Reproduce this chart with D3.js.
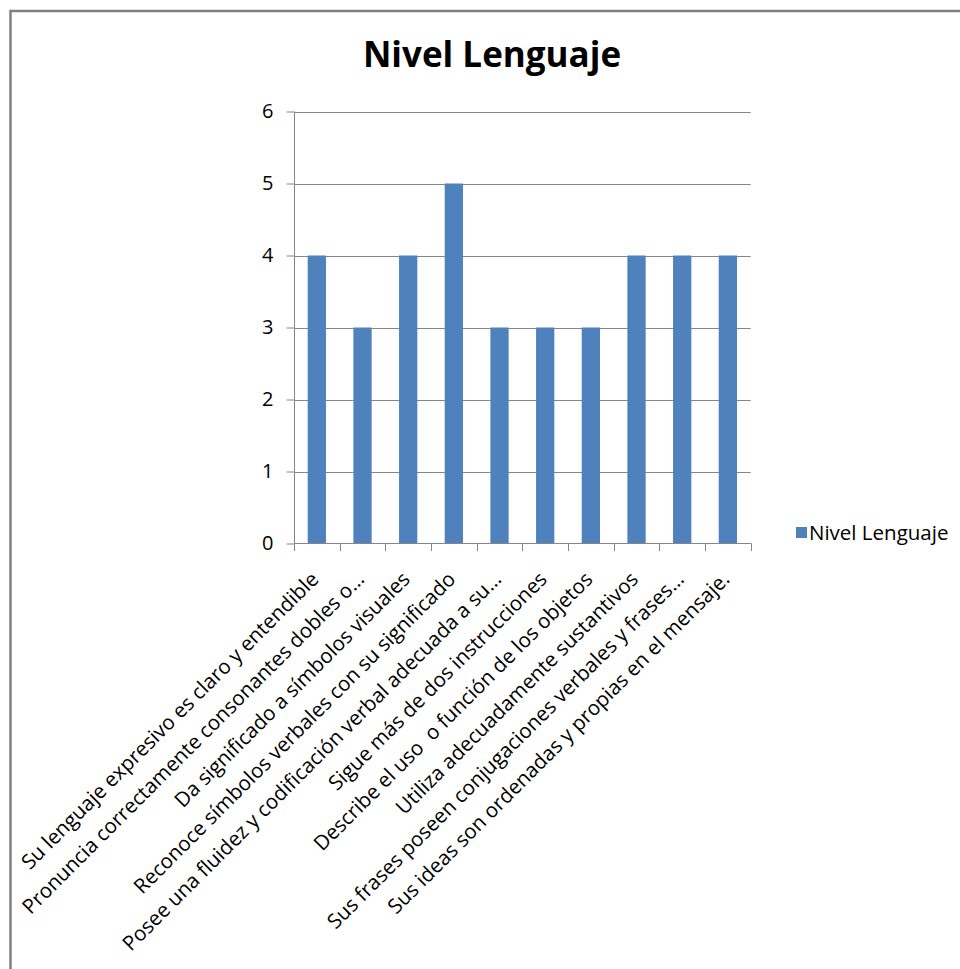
<!DOCTYPE html>
<html>
<head>
<meta charset="utf-8">
<script src="https://cdn.jsdelivr.net/npm/d3@7"></script>
<style>
  html, body { margin: 0; padding: 0; background: #fff; }
  svg { display: block; font-family: "Open Sans", sans-serif; }
</style>
</head>
<body>
<svg id="chart" width="960" height="969"></svg>
<script>
// Items assessed and their score
const categories = [
  "Su lenguaje expresivo es claro y entendible",
  "Pronuncia correctamente consonantes dobles o…",
  "Da significado a símbolos visuales",
  "Reconoce símbolos verbales con su significado",
  "Posee una fluidez y codificación verbal adecuada a su…",
  "Sigue más de dos instrucciones",
  "Describe el uso\u00a0 o función de los objetos",
  "Utiliza adecuadamente sustantivos",
  "Sus frases poseen conjugaciones verbales y frases…",
  "Sus ideas son ordenadas y propias en el mensaje."
];
const values = [4, 3, 4, 5, 3, 3, 3, 4, 4, 4];
const yTicks = [0, 1, 2, 3, 4, 5, 6];
const seriesName = "Nivel Lenguaje";
const chartTitle = "Nivel Lenguaje";

const svg = d3.select("#chart");
const barColor = "#4F81BD";
const lineColor = "#868686";

// Outer frame of the chart
svg.append("path")
  .attr("d", "M10.5,969 L10.5,11 L960,11")
  .attr("fill", "none")
  .attr("stroke", "#808080")
  .attr("stroke-width", 2.5);

// Title
svg.append("text")
  .attr("x", 492).attr("y", 67)
  .attr("text-anchor", "middle")
  .attr("font-size", 35)
  .attr("font-weight", "bold")
  .attr("fill", "#000")
  .text(chartTitle);

const plot = { left: 294, right: 750.7, top: 111.5, bottom: 543.5 };

const x = d3.scaleBand()
  .domain(categories)
  .range([plot.left, plot.right])
  .paddingInner(0.6)
  .paddingOuter(0.3);

const xBand = d3.scaleBand()
  .domain(categories)
  .range([plot.left, plot.right]);

const y = d3.scaleLinear()
  .domain([0, 6])
  .range([plot.bottom, plot.top]);

// Horizontal gridlines
svg.append("g")
  .selectAll("line")
  .data(yTicks.filter(d => d > 0))
  .join("line")
  .attr("x1", plot.left).attr("x2", plot.right)
  .attr("y1", d => Math.round(y(d)) + 0.5)
  .attr("y2", d => Math.round(y(d)) + 0.5)
  .attr("stroke", lineColor)
  .attr("stroke-width", 1);

// Bars
svg.append("g")
  .selectAll("rect")
  .data(values)
  .join("rect")
  .attr("x", (d, i) => x(categories[i]))
  .attr("width", x.bandwidth())
  .attr("y", d => y(d))
  .attr("height", d => y(0) - y(d))
  .attr("fill", barColor);

// Y axis
const yAxis = svg.append("g")
  .attr("transform", `translate(${plot.left + 0.5},0)`)
  .call(d3.axisLeft(y).tickValues(yTicks).tickFormat(d3.format("d")).tickSize(8).tickPadding(13));
yAxis.select(".domain").attr("stroke", lineColor).attr("d", `M0,${plot.top}V${plot.bottom}`);
yAxis.selectAll(".tick line").attr("stroke", lineColor);
yAxis.selectAll(".tick text")
  .attr("font-size", 20)
  .attr("font-family", "Open Sans, sans-serif")
  .attr("fill", "#000");

// X axis: tick marks at band boundaries
const boundaries = categories.map(c => xBand(c)).concat([plot.right]);
const xAxis = svg.append("g");
xAxis.append("line")
  .attr("x1", plot.left).attr("x2", plot.right + 0.5)
  .attr("y1", plot.bottom).attr("y2", plot.bottom)
  .attr("stroke", lineColor);
xAxis.selectAll("line.tk")
  .data(boundaries)
  .join("line")
  .attr("class", "tk")
  .attr("x1", d => Math.round(d) + 0.5).attr("x2", d => Math.round(d) + 0.5)
  .attr("y1", plot.bottom).attr("y2", plot.bottom + 7.5)
  .attr("stroke", lineColor);

// Rotated category labels
xAxis.selectAll("text")
  .data(categories)
  .join("text")
  .attr("transform", d => `translate(${xBand(d) + xBand.bandwidth() / 2 + 3},${plot.bottom + 37}) rotate(-45)`)
  .attr("text-anchor", "end")
  .attr("font-size", 20.5)
  .attr("fill", "#000")
  .style("white-space", "pre")
  .text(d => d);

// Legend
const legend = svg.append("g").attr("transform", "translate(796,527)");
legend.append("rect")
  .attr("width", 11).attr("height", 11)
  .attr("fill", barColor);
legend.append("text")
  .attr("x", 13).attr("y", 12.5)
  .attr("font-size", 20.5)
  .attr("fill", "#000")
  .text(seriesName);
</script>
</body>
</html>
